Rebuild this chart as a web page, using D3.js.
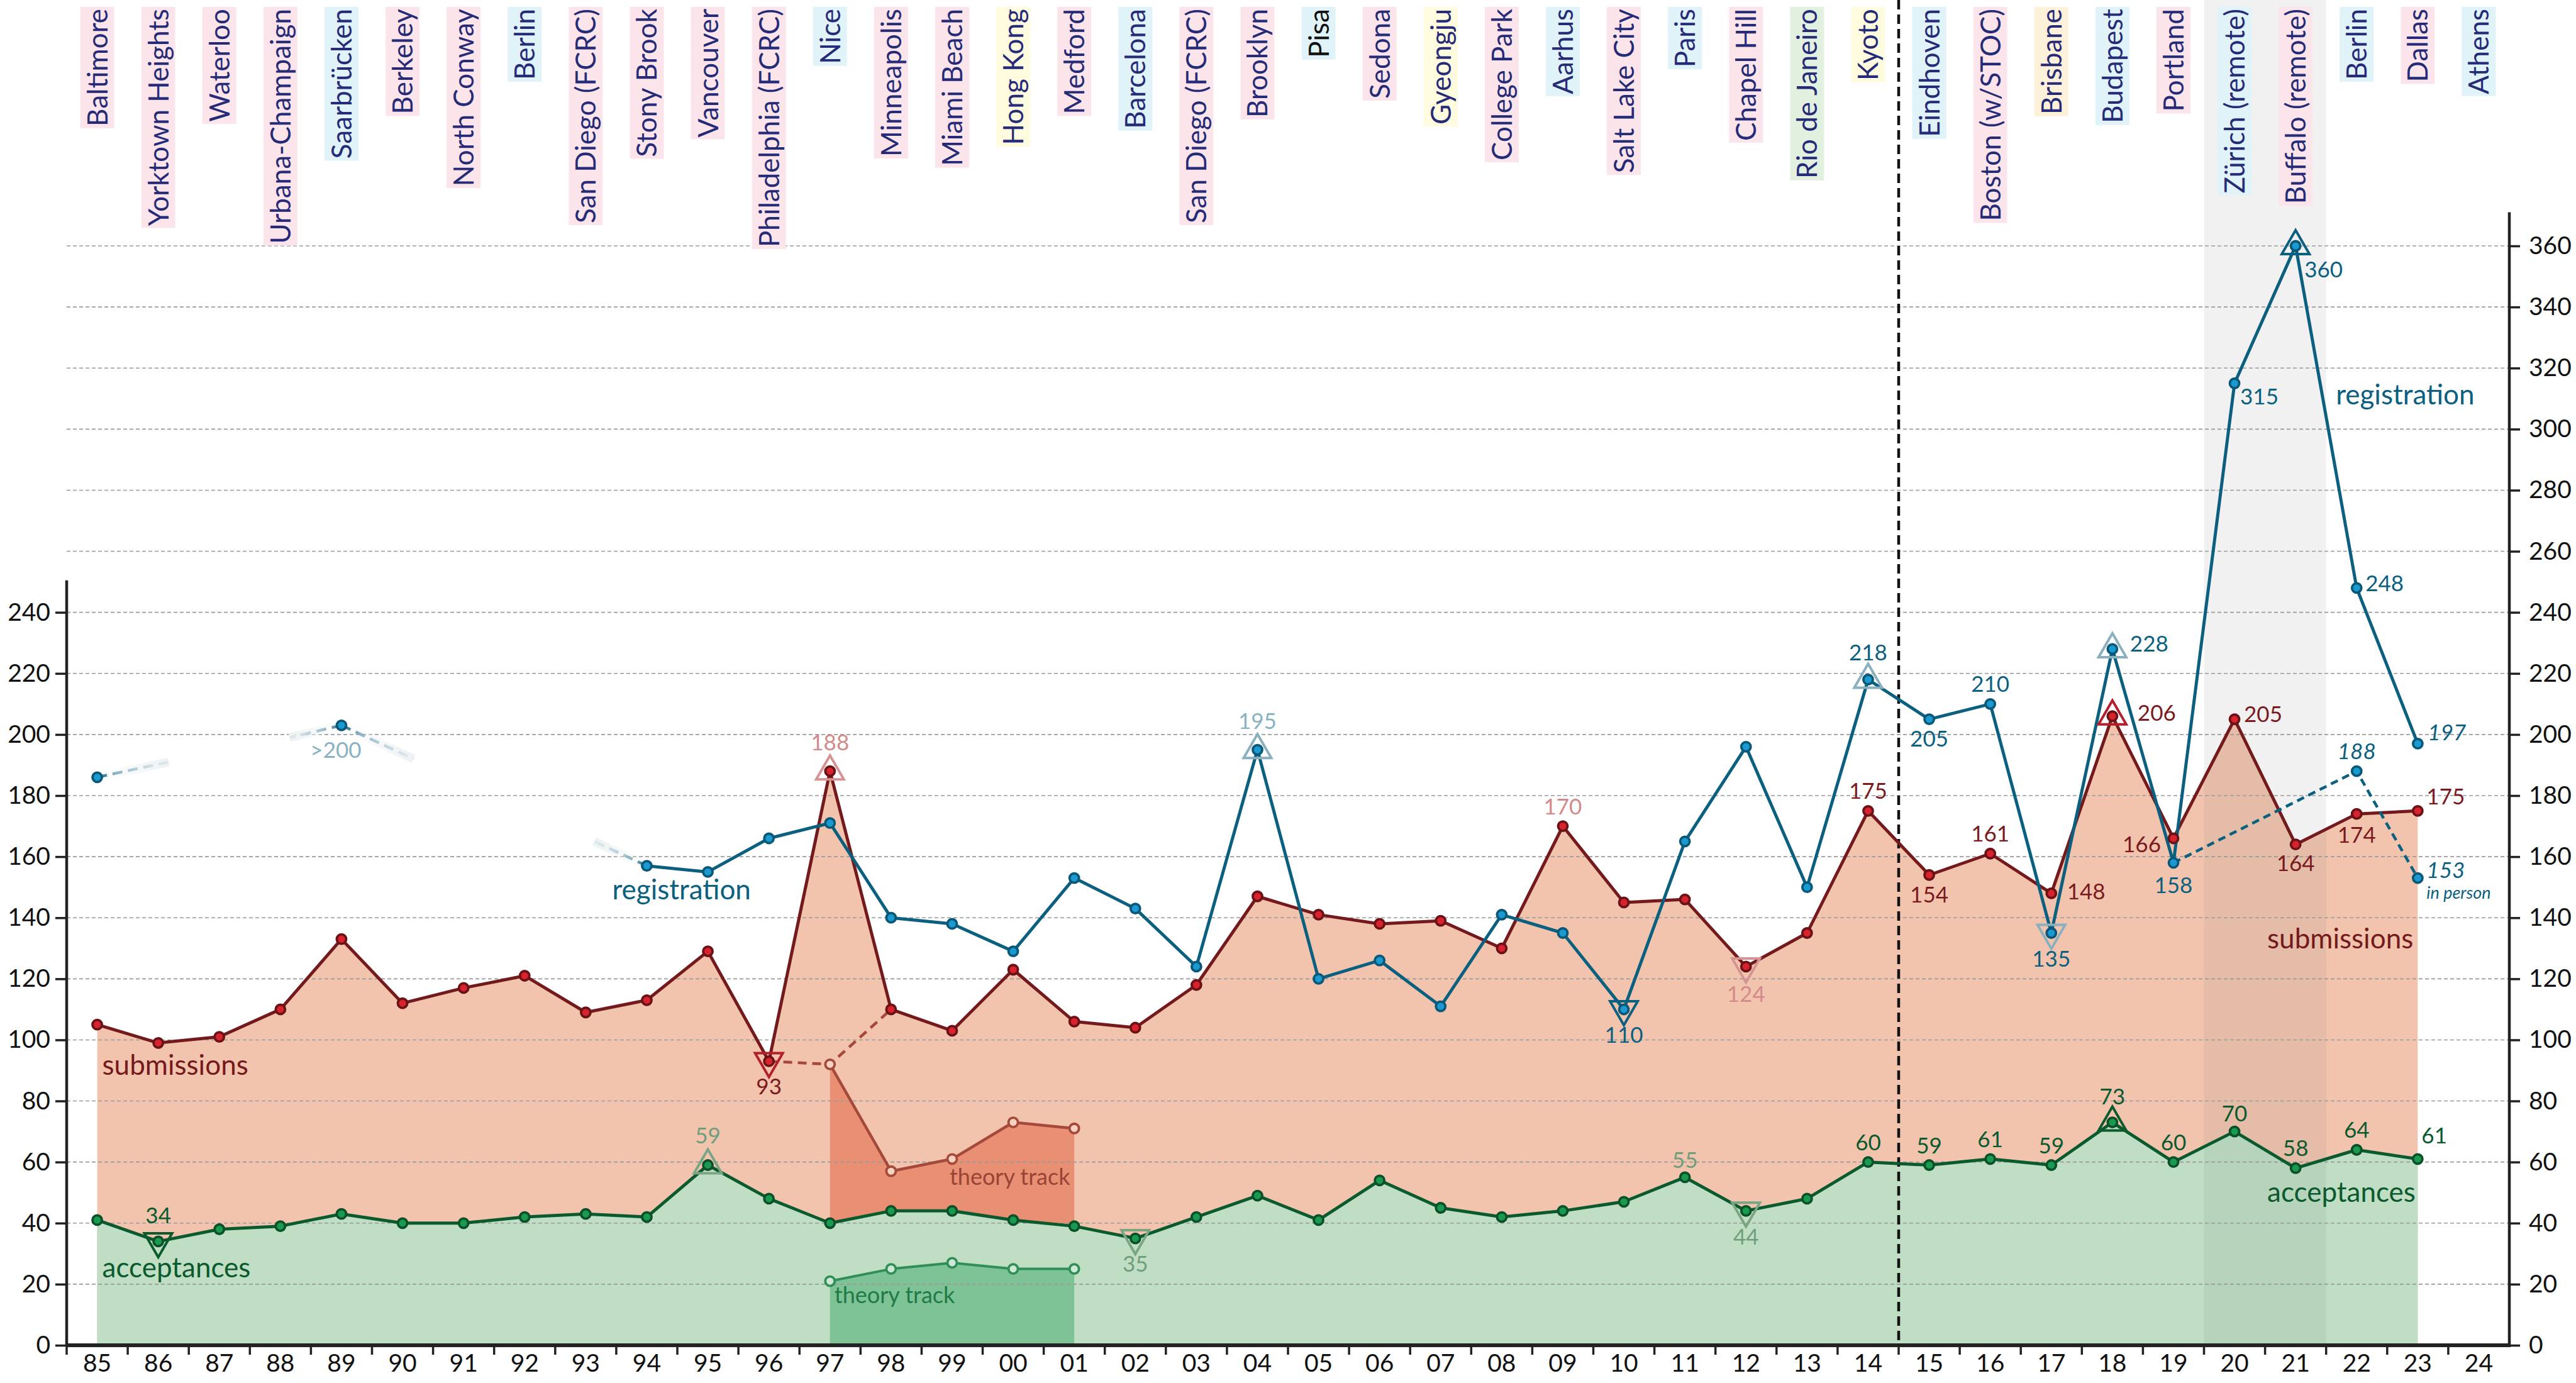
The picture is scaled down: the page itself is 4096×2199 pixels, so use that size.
<!DOCTYPE html>
<html>
<head>
<meta charset="utf-8">
<script src="https://cdn.jsdelivr.net/npm/d3@7"></script>
<style>
  body { margin: 0; background: #fff; }
  svg { display: block; }
  text { font-family: Lato, "Open Sans", sans-serif; }
</style>
</head>
<body>
<script>
// years on the x axis, 85 .. 24
var years = ["85","86","87","88","89","90","91","92","93","94","95","96","97","98","99","00","01","02","03","04",
             "05","06","07","08","09","10","11","12","13","14","15","16","17","18","19","20","21","22","23","24"];
var cities = ["Baltimore","Yorktown Heights","Waterloo","Urbana-Champaign","Saarbrücken","Berkeley","North Conway","Berlin",
              "San Diego (FCRC)","Stony Brook","Vancouver","Philadelphia (FCRC)","Nice","Minneapolis","Miami Beach","Hong Kong",
              "Medford","Barcelona","San Diego (FCRC)","Brooklyn","Pisa","Sedona","Gyeongju","College Park","Aarhus",
              "Salt Lake City","Paris","Chapel Hill","Rio de Janeiro","Kyoto","Eindhoven","Boston (w/STOC)","Brisbane",
              "Budapest","Portland","Zürich (remote)","Buffalo (remote)","Berlin","Dallas","Athens"];
var continents = ["na","na","na","na","eu","na","na","eu","na","na","na","na","eu","na","na","as","na","eu","na","na",
                  "eu","na","as","na","eu","na","eu","na","sa","as","eu","na","au","eu","na","eu","na","eu","na","eu"];

// series values, 85 .. 23
var submissions = [105,99,101,110,133,112,117,121,109,113,129,93,188,110,103,123,106,104,118,147,
                   141,138,139,130,170,145,146,124,135,175,154,161,148,206,166,205,164,174,175];
var acceptances = [41,34,38,39,43,40,40,42,43,42,59,48,40,44,44,41,39,35,42,49,
                   41,54,45,42,44,47,55,44,48,60,59,61,59,73,60,70,58,64,61];
var registration = [186,null,null,null,203,null,null,null,null,157,155,166,171,140,138,129,153,143,124,195,
                    120,126,111,141,135,110,165,196,150,218,205,210,135,228,158,315,360,248,197];

// theory track years (1997-2001)
var theoryYears = ["97","98","99","00","01"];
var theorySubmissions = [92,57,61,73,71];
var theoryAcceptances = [21,25,27,25,25];
// submissions without theory track
var splitYears = ["96","97","98"];
var splitSubmissions = [93,92,110];
// in-person registration
var inPersonYears = ["19","22","23"];
var inPerson = [158,188,153];
// faded registration stubs where data is incomplete
var stubYears = ["85","89","89","94"];
var stubShift = [1.17,-0.85,1.18,-0.86];
var stubEnd = [191,199,192,165];

var leftTicks = d3.range(0, 241, 20);
var rightTicks = d3.range(0, 361, 20);

var W = 4096, H = 2199;
var svg = d3.select("body").append("svg").attr("width", W).attr("height", H);

var x = d3.scaleBand().domain(years).range([106, 3990]);
var bw = x.bandwidth();
function cx(yr) { return x(yr) + bw / 2; }
var y = d3.scaleLinear().domain([0, 360]).range([2139, 391]);
var dataYears = years.slice(0, submissions.length);

var labelBg = { na: "#fbe5ea", eu: "#e0f3f9", as: "#fefbdf", au: "#fef1d9", sa: "#e2f0e0" };

// city labels along the top (backgrounds first, text raised at the end)
var cityG = svg.append("g");
var cityBg = cityG.append("g");

// areas
var area = d3.area().x(function (d) { return cx(d[0]); }).y0(y(0)).y1(function (d) { return y(d[1]); });
svg.append("path").datum(d3.zip(dataYears, submissions)).attr("d", area).attr("fill", "#f2c4ae");
svg.append("path").datum(d3.zip(theoryYears, theorySubmissions)).attr("d", area).attr("fill", "#e88f74");
svg.append("path").datum(d3.zip(dataYears, acceptances)).attr("d", area).attr("fill", "#bfdec4");
svg.append("path").datum(d3.zip(theoryYears, theoryAcceptances)).attr("d", area).attr("fill", "#7dc396");

// grey band for the remote years
svg.append("rect").attr("x", x("20")).attr("y", 0).attr("width", x("21") + bw - x("20")).attr("height", y(0))
  .attr("fill", "rgb(105,115,110)").attr("fill-opacity", 0.1);

// grid
svg.append("g").selectAll("line").data(d3.range(20, 361, 20)).enter().append("line")
  .attr("x1", 106).attr("x2", 3990)
  .attr("y1", function (d) { return y(d); }).attr("y2", function (d) { return y(d); })
  .attr("stroke", "#9a9a9a").attr("stroke-width", 1.6).attr("stroke-dasharray", "6,4");

// dashed separator between 14 and 15
svg.append("line").attr("x1", x("15")).attr("x2", x("15")).attr("y1", 0).attr("y2", y(0))
  .attr("stroke", "#111").attr("stroke-width", 4.5).attr("stroke-dasharray", "15,8");

// axes
var leftAxis = svg.append("g").attr("transform", "translate(106,0)")
  .call(d3.axisLeft(y).tickValues(leftTicks).tickSize(18).tickPadding(8));
var rightAxis = svg.append("g").attr("transform", "translate(3990,0)")
  .call(d3.axisRight(y).tickValues(rightTicks).tickSize(17).tickPadding(14));
[leftAxis, rightAxis].forEach(function (g) {
  g.select(".domain").remove();
  g.selectAll("line").attr("stroke", "#222").attr("stroke-width", 3.5);
  g.selectAll("text").attr("font-size", 39).attr("fill", "#111").attr("font-family", "Lato, sans-serif");
});
svg.append("line").attr("x1", 106).attr("x2", 106).attr("y1", y(0)).attr("y2", y(250.5))
  .attr("stroke", "#222").attr("stroke-width", 4.5);
svg.append("line").attr("x1", 3990).attr("x2", 3990).attr("y1", y(0) + 3).attr("y2", y(371))
  .attr("stroke", "#222").attr("stroke-width", 4.5);

var bottomAxis = svg.append("g").attr("transform", "translate(0," + y(0) + ")")
  .call(d3.axisBottom(x).tickSize(0).tickPadding(14));
bottomAxis.select(".domain").remove();
bottomAxis.selectAll("text").attr("font-size", 39).attr("fill", "#111").attr("font-family", "Lato, sans-serif");
svg.append("g").selectAll("line").data(years).enter().append("line")
  .attr("x1", function (d) { return x(d); }).attr("x2", function (d) { return x(d); })
  .attr("y1", y(0)).attr("y2", y(0) + 15)
  .attr("stroke", "#222").attr("stroke-width", 3.5);
svg.append("line").attr("x1", 106).attr("x2", 3990 + 2).attr("y1", y(0)).attr("y2", y(0))
  .attr("stroke", "#222").attr("stroke-width", 6);

// faded registration stubs
var defs = svg.append("defs");
stubYears.forEach(function (yr, i) {
  var x1 = cx(yr), y1 = y(registration[years.indexOf(yr)]);
  var x2 = x1 + stubShift[i] * bw, y2 = y(stubEnd[i]);
  var gid = "stub" + i;
  var grad = defs.append("linearGradient").attr("id", gid).attr("gradientUnits", "userSpaceOnUse")
    .attr("x1", x1).attr("y1", y1).attr("x2", x2).attr("y2", y2);
  grad.append("stop").attr("offset", "0").attr("stop-color", "#0b5f7f").attr("stop-opacity", 1);
  grad.append("stop").attr("offset", "0.25").attr("stop-color", "#7fa9ba").attr("stop-opacity", 0.9);
  grad.append("stop").attr("offset", "1").attr("stop-color", "#c9dde5").attr("stop-opacity", 0.4);
  var hid = "halo" + i;
  var hg = defs.append("linearGradient").attr("id", hid).attr("gradientUnits", "userSpaceOnUse")
    .attr("x1", x1).attr("y1", y1).attr("x2", x2).attr("y2", y2);
  hg.append("stop").attr("offset", "0").attr("stop-color", "#eef2f3").attr("stop-opacity", 0);
  hg.append("stop").attr("offset", "1").attr("stop-color", "#eef2f3").attr("stop-opacity", 1);
  svg.append("line").attr("x1", x1).attr("y1", y1).attr("x2", x2).attr("y2", y2)
    .attr("stroke", "url(#" + hid + ")").attr("stroke-width", 14);
  svg.append("line").attr("x1", x1).attr("y1", y1).attr("x2", x2).attr("y2", y2)
    .attr("stroke", "url(#" + gid + ")").attr("stroke-width", 4.5).attr("stroke-dasharray", "16,9");
});

// lines
var line = d3.line().defined(function (d) { return d[1] != null; })
  .x(function (d) { return cx(d[0]); }).y(function (d) { return y(d[1]); });
function drawLine(data, color, dash, width) {
  svg.append("path").datum(data).attr("d", line).attr("fill", "none")
    .attr("stroke", color).attr("stroke-width", width || 5).attr("stroke-linejoin", "round")
    .attr("stroke-dasharray", dash || null);
}
drawLine(d3.zip(theoryYears, theorySubmissions), "#a54a3b", null, 4.5);
drawLine(d3.zip(splitYears, splitSubmissions), "#a54a3b", "14,9", 4.5);
drawLine(d3.zip(theoryYears, theoryAcceptances), "#2f8f57", null, 4);
drawLine(d3.zip(dataYears, acceptances), "#0b5a2e");
drawLine(d3.zip(dataYears, submissions), "#741a1d");
drawLine(d3.zip(dataYears, registration), "#0b5f7f");
drawLine(d3.zip(inPersonYears, inPerson), "#0b5f7f", "12,8", 4.5);

// annotations: which point, where the number goes, marker, tone (1 dark, 0 light)
var series = {
  sub: { years: dataYears, vals: submissions, dark: "#7a1a1f", light: "#d28a8a", mdark: "#b3202c", mlight: "#d49494" },
  reg: { years: dataYears, vals: registration, dark: "#0b5f7f", light: "#88b2c2", mdark: "#0b5f7f", mlight: "#8ab0c0" },
  acc: { years: dataYears, vals: acceptances, dark: "#0b5a2e", light: "#6f9e7c", mdark: "#0b5a2e", mlight: "#7aa585" },
  inp: { years: inPersonYears, vals: inPerson, dark: "#0b5f7f", light: "#88b2c2" }
};
var notes = [
  { s: "sub", yr: "96", at: "belowTri", tri: "down", tc: 1, mc: 1 },
  { s: "sub", yr: "97", at: "aboveTri", tri: "up", tc: 0, mc: 0 },
  { s: "sub", yr: "09", at: "above", tc: 0 },
  { s: "sub", yr: "12", at: "belowTri", tri: "down", dy: 56, tc: 0, mc: 0 },
  { s: "sub", yr: "14", at: "above", tc: 1 },
  { s: "sub", yr: "15", at: "below", tc: 1 },
  { s: "sub", yr: "16", at: "above", tc: 1 },
  { s: "sub", yr: "17", at: "right", dx: 25, dy: 10, tc: 1 },
  { s: "sub", yr: "18", at: "right", tri: "up", dx: 40, dy: 7, tc: 1, mc: 1 },
  { s: "sub", yr: "19", at: "left", tc: 1 },
  { s: "sub", yr: "20", at: "right", dx: 15, dy: 4, tc: 1 },
  { s: "sub", yr: "21", at: "below", dy: 42, tc: 1 },
  { s: "sub", yr: "22", at: "below", dy: 46, tc: 1 },
  { s: "sub", yr: "23", at: "right", dx: 14, dy: -10, tc: 1 },
  { s: "reg", yr: "89", at: "below", t: ">200", dx: -9, dy: 52, tc: 0 },
  { s: "reg", yr: "04", at: "aboveTri", tri: "up", tc: 0, mc: 0 },
  { s: "reg", yr: "10", at: "belowTri", tri: "down", tc: 1, mc: 1 },
  { s: "reg", yr: "14", at: "aboveTri", tri: "up", dy: -30, tc: 1, mc: 0 },
  { s: "reg", yr: "15", at: "below", dy: 43, tc: 1 },
  { s: "reg", yr: "16", at: "above", tc: 1 },
  { s: "reg", yr: "17", at: "belowTri", tri: "down", tc: 1, mc: 0 },
  { s: "reg", yr: "18", at: "right", tri: "up", dx: 28, dy: 4, tc: 1, mc: 0 },
  { s: "reg", yr: "19", at: "below", dy: 48, tc: 1 },
  { s: "reg", yr: "20", at: "right", dx: 9, dy: 33, tc: 1 },
  { s: "reg", yr: "21", at: "right", tri: "up", dx: 14, dy: 50, tc: 1, mc: 1 },
  { s: "reg", yr: "22", at: "right", dx: 14, dy: 5, tc: 1 },
  { s: "reg", yr: "23", at: "right", dx: 16, dy: -5, tc: 1, it: true },
  { s: "inp", yr: "22", at: "above", dy: -19, tc: 1, it: true },
  { s: "inp", yr: "23", at: "right", dx: 14, dy: 0, tc: 1, it: true },
  { s: "acc", yr: "86", at: "aboveTri", tri: "down", dy: -29, tc: 1, mc: 1 },
  { s: "acc", yr: "95", at: "aboveTri", tri: "up", dy: -35, tc: 0, mc: 0 },
  { s: "acc", yr: "02", at: "belowTri", tri: "down", tc: 0, mc: 0 },
  { s: "acc", yr: "11", at: "above", dy: -15, tc: 0 },
  { s: "acc", yr: "12", at: "belowTri", tri: "down", dy: 54, tc: 0, mc: 0 },
  { s: "acc", yr: "14", at: "above", tc: 1 },
  { s: "acc", yr: "15", at: "above", tc: 1 },
  { s: "acc", yr: "16", at: "above", tc: 1 },
  { s: "acc", yr: "17", at: "above", tc: 1 },
  { s: "acc", yr: "18", at: "aboveTri", tri: "up", dy: -29, tc: 1, mc: 1 },
  { s: "acc", yr: "19", at: "above", tc: 1 },
  { s: "acc", yr: "20", at: "above", dy: -16, tc: 1 },
  { s: "acc", yr: "21", at: "above", tc: 1 },
  { s: "acc", yr: "22", at: "above", tc: 1 },
  { s: "acc", yr: "23", at: "right", dx: 6, dy: -25, tc: 1 }
];
var place = {
  above: [0, -19, "middle"], aboveTri: [0, -33, "middle"],
  below: [0, 44, "middle"], belowTri: [0, 53, "middle"],
  left: [-20, 22, "end"], right: [16, 5, "start"]
};
function pointOf(n) {
  var s = series[n.s];
  var v = s.vals[s.years.indexOf(n.yr)];
  return { x: cx(n.yr), y: y(v), v: v };
}

// markers (triangles)
var triPath = {
  up: "M0,-25L22,13L-22,13Z",
  down: "M0,25L22,-13L-22,-13Z"
};
notes.filter(function (n) { return n.tri; }).forEach(function (n) {
  var p = pointOf(n), s = series[n.s];
  svg.append("path").attr("d", triPath[n.tri])
    .attr("transform", "translate(" + p.x + "," + p.y + ")")
    .attr("fill", "none").attr("stroke", n.mc ? s.mdark : s.mlight)
    .attr("stroke-width", 4).attr("stroke-linejoin", "miter");
});

// points
function drawPoints(yrs, vals, fill, stroke) {
  svg.append("g").selectAll("circle").data(d3.zip(yrs, vals).filter(function (d) { return d[1] != null; }))
    .enter().append("circle")
    .attr("cx", function (d) { return cx(d[0]); }).attr("cy", function (d) { return y(d[1]); })
    .attr("r", 7.5).attr("fill", fill).attr("stroke", stroke).attr("stroke-width", 3.8);
}
drawPoints(theoryYears, theorySubmissions, "#f6d2c0", "#a54a3b");
drawPoints(theoryYears, theoryAcceptances, "#cfe8d5", "#2f8f57");
drawPoints(dataYears, acceptances, "#1a9a50", "#0b5028");
drawPoints(dataYears, submissions, "#d8232e", "#6a1216");
drawPoints(dataYears, registration, "#1a9ad0", "#0a5878");
drawPoints(inPersonYears.slice(1), inPerson.slice(1), "#1a9ad0", "#0a5878");

// value labels
notes.forEach(function (n) {
  var p = pointOf(n), s = series[n.s], pl = place[n.at];
  var dx = n.dx != null ? n.dx : pl[0];
  var dy = n.dy != null ? n.dy : pl[1];
  svg.append("text").attr("x", p.x + dx).attr("y", p.y + dy)
    .attr("text-anchor", pl[2]).attr("font-size", 35)
    .attr("font-style", n.it ? "italic" : null)
    .attr("fill", n.tc ? s.dark : s.light)
    .text(n.t || p.v);
});
var p153 = pointOf({ s: "inp", yr: "23" });
svg.append("text").attr("x", p153.x + 14).attr("y", p153.y + 33).attr("font-size", 27)
  .attr("font-style", "italic").attr("fill", "#0b5f7f").text("in person");

// series names
var names = [
  { t: "submissions", yr: "85", dx: 8, v: 88.5, c: "#741a1d", fs: 44 },
  { t: "acceptances", yr: "85", dx: 8, v: 22.2, c: "#0b5a2e", fs: 44 },
  { t: "registration", yr: "94", dx: -55, v: 146, c: "#0b5f7f", fs: 44 },
  { t: "registration", yr: "21", dx: 64, v: 308, c: "#0b5f7f", fs: 44 },
  { t: "submissions", yr: "20", dx: 52, v: 130, c: "#741a1d", fs: 44 },
  { t: "acceptances", yr: "20", dx: 52, v: 47, c: "#0b5a2e", fs: 44 },
  { t: "theory track", yr: "99", dx: -4, v: 52.5, c: "#9a4436", fs: 36 },
  { t: "theory track", yr: "97", dx: 7, v: 13.8, c: "#1f7a45", fs: 36 }
];
names.forEach(function (n) {
  svg.append("text").attr("x", cx(n.yr) + n.dx).attr("y", y(n.v))
    .attr("font-size", n.fs).attr("fill", n.c).text(n.t);
});

// city labels, rotated, hanging from the top
cities.forEach(function (c, i) {
  var xc = cx(years[i]);
  var t = cityG.append("text")
    .attr("transform", "translate(" + (xc + 16) + ",14) rotate(-90)")
    .attr("text-anchor", "end").attr("font-size", 44)
    .attr("fill", c === "Pisa" ? "#111" : "#262b78")
    .text(c);
  var len = t.node().getComputedTextLength();
  cityBg.append("rect").attr("x", xc - 27).attr("y", 11).attr("width", 54).attr("height", len + 6)
    .attr("fill", labelBg[continents[i]]);
});
cityG.raise();
</script>
</body>
</html>
